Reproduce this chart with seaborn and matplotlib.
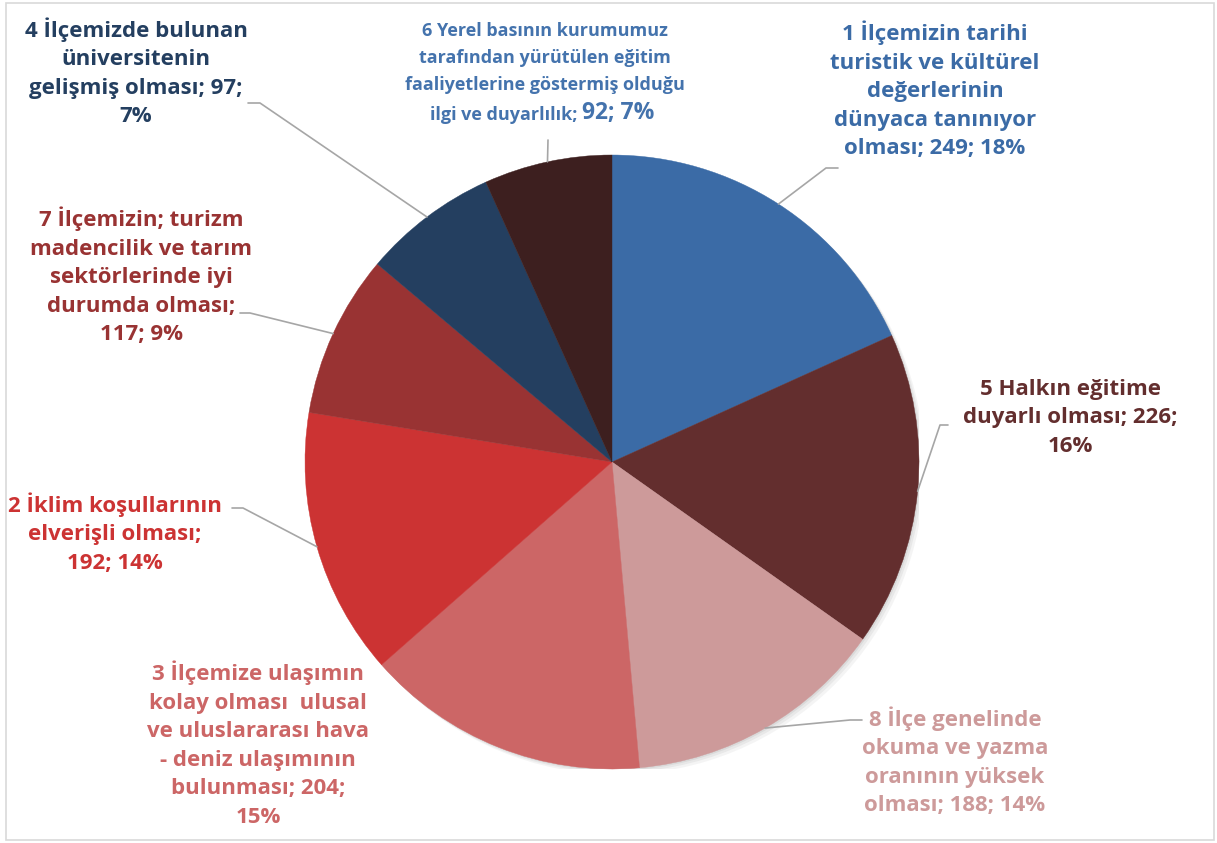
import numpy as np
import matplotlib
matplotlib.use("Agg")
import matplotlib.pyplot as plt
import seaborn as sns
from matplotlib.patches import Rectangle, Circle

# slices in clockwise order from 12 o'clock
labels = [
    "1 İlçemizin tarihi\nturistik ve kültürel\ndeğerlerinin\ndünyaca tanınıyor\nolması",
    "5 Halkın eğitime\nduyarlı olması",
    "8 İlçe genelinde\nokuma ve yazma\noranının yüksek\nolması",
    "3 İlçemize ulaşımın\nkolay olması  ulusal\nve uluslararası hava\n- deniz ulaşımının\nbulunması",
    "2 İklim koşullarının\nelverişli olması;",
    "7 İlçemizin; turizm\nmadencilik ve tarım\nsektörlerinde iyi\ndurumda olması;",
    "4 İlçemizde bulunan\nüniversitenin\ngelişmiş olması; 97;",
    "6 Yerel basının kurumumuz\ntarafından yürütülen eğitim\nfaaliyetlerine göstermiş olduğu\nilgi ve duyarlılık",
]
values = [249, 226, 188, 204, 192, 117, 97, 92]
percents = [18, 16, 14, 15, 14, 9, 7, 7]

slice_colors = ["#3b6ba6", "#632e2e", "#cd9a9a", "#cc6666",
                "#cc3333", "#993333", "#243f60", "#3d1f1f"]
text_colors = ["#3b6ba6", "#632e2e", "#cd9a9a", "#cc6666",
               "#cc3333", "#993333", "#243f60", "#4473ad"]

# full label texts as Excel writes them ("name; value; percent")
label_text = [
    labels[0] + "; 249; 18%",
    labels[1] + "; 226;\n16%",
    labels[2] + "; 188; 14%",
    labels[3] + "; 204;\n15%",
    labels[4] + "\n192; 14%",
    labels[5] + "\n117; 9%",
    labels[6] + "\n7%",
    None,
]

sns.set_theme(style="white")
plt.rcParams["font.family"] = ["Open Sans", "DejaVu Sans"]

W, H = 1217, 843
CX, CY, R = 612, 462, 307

fig = plt.figure(figsize=(W / 100, H / 100), dpi=100)
fig.patch.set_facecolor("white")
fig.patches.append(Rectangle((6 / W, 3 / H), (1214 - 6) / W, (840 - 3) / H,
                             transform=fig.transFigure, fill=False,
                             edgecolor="#d9d9d9", linewidth=1.2))

ax = fig.add_axes([(CX - R) / W, (H - CY - R) / H, 2 * R / W, 2 * R / H])


def px(x, y):
    return (x - CX) / R, (CY - y) / R


# soft shadow
for k, a in [(0.018, 0.08), (0.011, 0.10), (0.005, 0.13)]:
    ax.add_patch(Circle((k, -k), 1.0, color="#7f7f7f", alpha=a, zorder=0, lw=0))

wedges, _ = ax.pie(values, colors=slice_colors, startangle=90,
                   counterclock=False, radius=1.0,
                   wedgeprops=dict(linewidth=0.3))
for w in wedges:
    w.set_zorder(2)
    w.set_edgecolor(w.get_facecolor())
ax.set_xlim(-1, 1)
ax.set_ylim(-1, 1)
ax.set_aspect("equal")
ax.axis("off")

# label placement (pixel positions) and leader elbows
text_pos = [(935, 90), (1070, 418), (955, 761), (258, 744),
            (115, 533), (141, 276), (136, 72), None]
elbow = [((826, 168), (838, 168)), ((940, 425), (948, 425)),
         ((850, 720), (862, 720)), None,
         ((243, 508), (232, 508)), ((250, 313), (240, 313)),
         ((260, 103), (248, 103)), ((548, 140), (548, 140))]

fs = 16
for i, t in enumerate(label_text):
    if t is None:
        continue
    x, y = px(*text_pos[i])
    ax.text(x, y, t, ha="center", va="center", multialignment="center",
            fontsize=fs, fontweight="bold", color=text_colors[i],
            linespacing=1.47, clip_on=False, zorder=5)

# label 6: smaller name, larger numbers
x6, y6 = px(545, 58)
ax.text(x6, y6, "\n".join(labels[7].split("\n")[:3]), ha="center", va="center",
        multialignment="center", fontsize=13, fontweight="bold",
        color=text_colors[7], linespacing=1.62, clip_on=False)
xs, ys = px(577, 115)
ax.text(xs, ys, labels[7].split("\n")[3] + ";", ha="right", va="center",
        fontsize=13, fontweight="bold", color=text_colors[7], clip_on=False)
xb, yb = px(582, 113)
ax.text(xb, yb, "%d; %d%%" % (values[7], percents[7]), ha="left", va="center",
        fontsize=16.5, fontweight="bold", color=text_colors[7], clip_on=False)

# leader lines from the middle of each slice edge
cum = np.cumsum([0] + values)
total = cum[-1]
for i, e in enumerate(elbow):
    if e is None:
        continue
    mid = 90 - (cum[i] + values[i] / 2) / total * 360
    sx, sy = np.cos(np.radians(mid)), np.sin(np.radians(mid))
    (ex, ey), (tx, ty) = px(*e[0]), px(*e[1])
    ax.plot([sx, ex, tx], [sy, ey, ty], color="#a6a6a6", lw=1.2,
            clip_on=False, zorder=3)

fig.savefig("out.png", dpi=100, facecolor="white")
